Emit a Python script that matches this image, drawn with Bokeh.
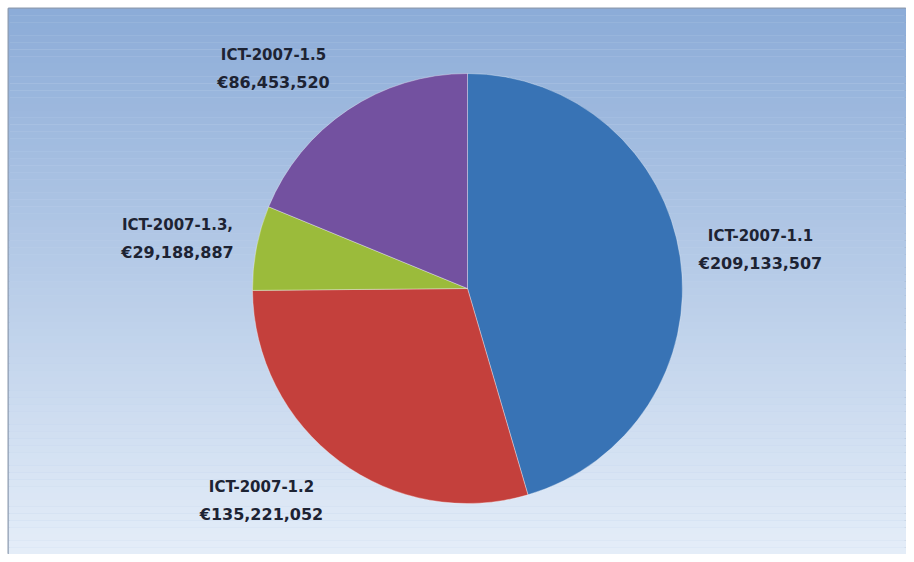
import numpy as np
from bokeh.plotting import figure
from bokeh.models import ColumnDataSource
from bokeh.core.properties import value
from bokeh.embed import file_html
from bokeh.resources import INLINE

# ---- data ----
categories = ["ICT-2007-1.1", "ICT-2007-1.2", "ICT-2007-1.3,", "ICT-2007-1.5"]
amounts = [209133507, 135221052, 29188887, 86453520]
colors = ["#3873b5", "#c4403c", "#9bbb3b", "#7351a0"]

# ---- layout ----
W, H = 906, 554
M = 8
cx, cy, R = 467, H - 288, 215
# label offsets from pie centre (pixels): (dx, dy up)
label_off = [(293, 39), (-206, -212), (-290, 50), (-194, 220)]

p = figure(width=W, height=H, x_range=(M, W), y_range=(0, H - M),
           output_backend="svg", toolbar_location=None,
           min_border=0, min_border_left=M, min_border_top=M)
p.axis.visible = False
p.grid.visible = False
p.outline_line_color = "#8d9bb0"
p.outline_line_width = 2
p.background_fill_color = "#c0d3ec"
p.border_fill_color = "white"

# background gradient (styling)
n = 80
ys = np.linspace(0, H - M, n + 1)
top = np.array([140, 172, 216])
bot = np.array([229, 238, 249])
cols = []
for i in range(n):
    t = (i + 0.5) / n  # 0 bottom -> 1 top
    c = bot + (top - bot) * t
    cols.append("#%02x%02x%02x" % tuple(int(v) for v in c))
p.quad(left=M, right=W, bottom=ys[:-1], top=ys[1:], fill_color=cols, line_color=None)

total = float(sum(amounts))
frac = np.array(amounts) / total
cum = np.concatenate([[0], np.cumsum(frac)])
start = np.pi / 2 - cum[:-1] * 2 * np.pi
end = np.pi / 2 - cum[1:] * 2 * np.pi

src = ColumnDataSource(dict(start=start, end=end, color=colors, cat=categories))
p.wedge(x=cx, y=cy, radius=R, start_angle="start", end_angle="end", direction="clock",
        fill_color="color", line_color="#ffffff", line_alpha=0.35, line_width=1, source=src)

lx = [cx + d[0] for d in label_off]
ly = [cy + d[1] for d in label_off]
vals = ["€{:,}".format(a) for a in amounts]

p.text(x=lx, y=[y + 14 for y in ly], text=categories, text_align="center", text_baseline="middle",
       text_font=value("DejaVu Sans"), text_font_style="bold", text_font_size="15px", text_color="#1d2333")
p.text(x=lx, y=[y - 14 for y in ly], text=vals, text_align="center", text_baseline="middle",
       text_font=value("DejaVu Sans"), text_font_style="bold", text_font_size="16px", text_color="#1d2333")

open("out.html", "w").write(file_html(p, INLINE))
